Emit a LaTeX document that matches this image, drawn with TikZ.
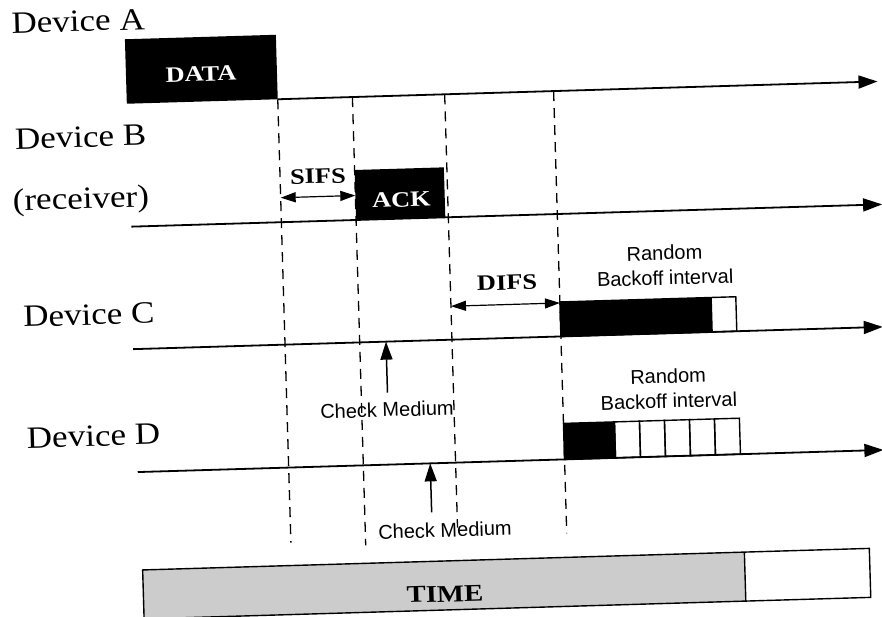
\documentclass[tikz,border=0pt]{standalone}
\usepackage{fontspec}
\setmainfont{Liberation Serif}
\newfontfamily\devfont[FakeStretch=1.13]{Liberation Serif}
\newfontfamily\labfont[FakeStretch=1.2]{Liberation Serif}
\newfontfamily\notefont{Liberation Sans}
\usetikzlibrary{arrows.meta}

\begin{document}
\begin{tikzpicture}[x=1pt,y=1pt,
  devlabel/.style={font=\devfont\fontsize{31}{36}\selectfont, anchor=base west, inner sep=0pt},
  tag/.style={font=\labfont\bfseries\fontsize{22}{26}\selectfont, inner sep=0pt},
  note/.style={font=\notefont\fontsize{20}{25}\selectfont, inner sep=0pt, align=center},
  timeline/.style={line width=1.8pt, -{Triangle[length=19pt,width=13pt]}},
  interval/.style={line width=1.2pt, {Triangle[length=15pt,width=10pt]}-{Triangle[length=15pt,width=10pt]}},
  probe/.style={line width=1.5pt, -{Triangle[length=18pt,width=12pt]}},
  guide/.style={line width=1.3pt, dash pattern=on 10pt off 7pt},
  frame/.style={line width=1.4pt},
]
\useasboundingbox (0,0) rectangle (882,-617);
\fill[white] (0,0) rectangle (882,-617);

\begin{scope}[shift={(441,-308)}, rotate=1.7, every node/.append style={transform shape}]

  % device names
  \node[devlabel] (devA) at (-421,287.4) {Device A};
  \node[devlabel] (devB) at (-421,171.4) {Device B};
  \node[devlabel] (recv) at (-425,110.0) {(receiver)};
  \node[devlabel] (devC) at (-418,-6.6) {Device C};
  \node[devlabel] (devD) at (-418,-127.7) {Device D};

  % time axes
  \coordinate (A0) at (-157,213.5);  \coordinate (A1) at (443,213.5);
  \coordinate (B0) at (-307,90.5);   \coordinate (B1) at (444,90.5);
  \coordinate (C0) at (-309,-32);    \coordinate (C1) at (441,-32);
  \coordinate (D0) at (-308,-155);   \coordinate (D1) at (438,-155);
  \draw[timeline] (A0) -- (A1);
  \draw[timeline] (B0) -- (B1);
  \draw[timeline] (C0) -- (C1);
  \draw[timeline] (D0) -- (D1);

  % DATA frame of device A
  \fill (-308,213.5) rectangle (-157,278);
  \node[tag, text=white] (data) at (-233,241) {DATA};

  % ACK frame of device B
  \fill (-82.3,90.5) rectangle (7,140.5);
  \node[tag, text=white] (ack) at (-36.3,109.5) {ACK};

  % dashed time marks
  \coordinate (g1t) at (-157,213.5);  \coordinate (g1b) at (-157,-230);
  \coordinate (g2t) at (-82.3,213.5); \coordinate (g2b) at (-82.3,-235);
  \coordinate (g3t) at (10,213.5);    \coordinate (g3b) at (10,-220);
  \coordinate (g4t) at (119,213.5);   \coordinate (g4b) at (119,-229);
  \draw[guide] (g1t) -- (g1b);
  \draw[guide] (g2t) -- (g2b);
  \draw[guide] (g3t) -- (g3b);
  \draw[guide] (g4t) -- (g4b);

  % SIFS and DIFS spacings
  \coordinate (s0) at (-157,115);  \coordinate (s1) at (-82.3,115);
  \draw[interval] (s0) -- (s1);
  \node[tag] (sifs) at (-119.1,135.2) {SIFS};
  \coordinate (d0) at (10,1.5);  \coordinate (d1) at (119,1.5);
  \draw[interval] (d0) -- (d1);
  \node[tag] (difs) at (66.8,23.5) {DIFS};

  % backoff of device C (anchor base = baseline of the last line)
  \fill (119,-32) rectangle (271,2.5);
  \draw[frame] (119,-32) rectangle (295,2.5);
  \node[note, anchor=base] (rbC) at (225,16.4) {Random\\Backoff interval};

  % backoff of device D
  \fill (119,-155) rectangle (170,-119);
  \draw[frame] (119,-155) rectangle (170,-119);
  \foreach \k in {0,...,4}
    \draw[frame] ({170+25*\k},-155) rectangle ++(25,36);
  \node[note, anchor=base] (rbD) at (225,-106.8) {Random\\Backoff interval};

  % medium sensing
  \coordinate (cC0) at (-56,-83);  \coordinate (cC1) at (-56,-32);
  \draw[probe] (cC0) -- (cC1);
  \node[note] (chkC) at (-57,-100) {Check Medium};
  \coordinate (cD0) at (-15.4,-204);  \coordinate (cD1) at (-15.4,-155);
  \draw[probe] (cD0) -- (cD1);
  \node[note] (chkD) at (-2.6,-222) {Check Medium};

  % time bar
  \fill[black!20] (-306,-302) rectangle (296,-253);
  \draw[frame] (-306,-302) rectangle (421,-253);
  \draw[frame] (296,-302) -- (296,-253);
  \node[font=\labfont\bfseries\fontsize{24}{28}\selectfont, inner sep=0pt] (time) at (-4.5,-286) {TIME};

\end{scope}
\end{tikzpicture}
\end{document}
